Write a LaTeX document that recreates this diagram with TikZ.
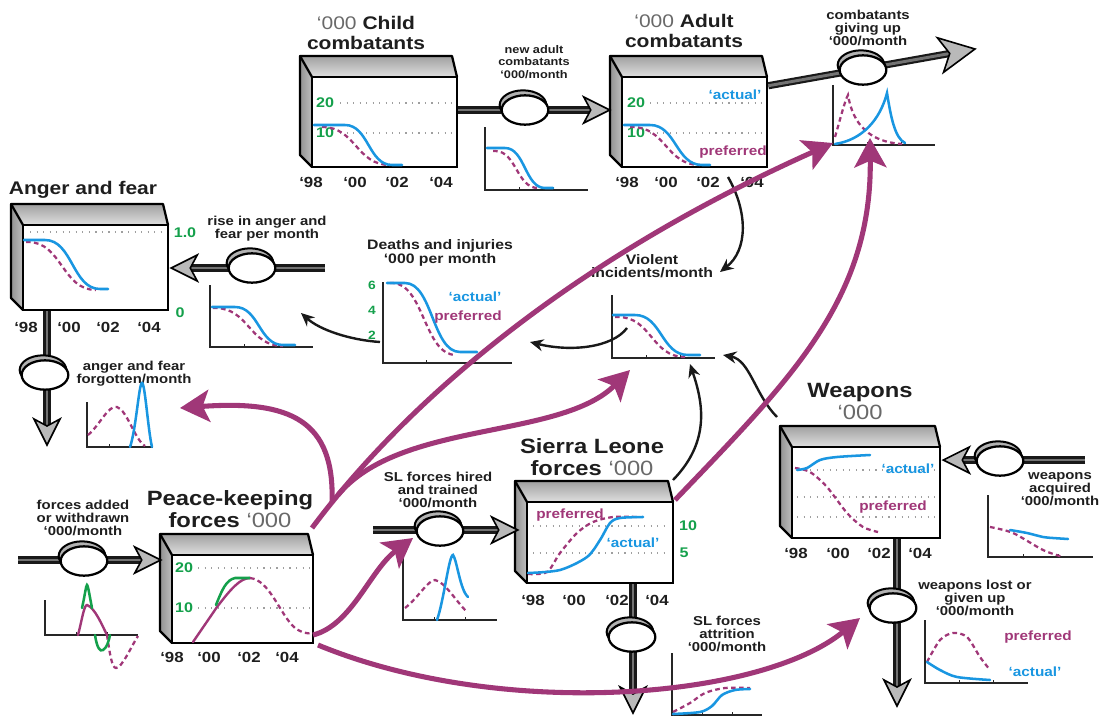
\documentclass[tikz,border=0pt]{standalone}
\usepackage{fontspec}
\setmainfont{Liberation Sans}[FakeStretch=1.15]
\usetikzlibrary{arrows.meta,shapes.geometric,fit,calc,backgrounds}
\definecolor{magc}{RGB}{160,55,120}
\definecolor{bluec}{RGB}{25,150,225}
\definecolor{greenc}{RGB}{20,160,75}
\definecolor{inkc}{RGB}{30,30,30}
\definecolor{titlegray}{RGB}{105,105,105}

\tikzset{
  boxline/.style={draw=black, line width=1.7pt, line join=round},
  boxface/.style={draw=black, line width=1.9pt, fill=white, inner sep=0pt},
  valvest/.style={ellipse, draw=black, line width=1.7pt, fill=white, minimum width=35pt, minimum height=22pt, inner sep=0pt},
  valverim/.style={ellipse, draw=black, line width=1.5pt, fill=gray!60, minimum width=35pt, minimum height=22pt, inner sep=0pt},
  pipe/.style={draw=black!90, line width=1.6pt, double=black!55, double distance=2.2pt},
  headst/.style={draw=black, line width=1.2pt, fill=gray!55, line join=miter},
  pipehead/.pic={\path[headst] (0,0) -- (-26,-13) -- (-19,0) -- (-26,13) -- cycle;},
  act/.style={draw=bluec, line width=1.9pt, line cap=round},
  pref/.style={draw=magc, line width=1.7pt, dash pattern=on 3.5pt off 2.5pt},
  prefsolid/.style={draw=magc, line width=1.8pt, line cap=round},
  grn/.style={draw=greenc, line width=1.9pt, line cap=round},
  gridl/.style={draw=gray!75, line width=0.9pt, dash pattern=on 0.9pt off 4pt},
  axisline/.style={draw=black!85, line width=1.1pt},
  infl/.style={draw=black!90, line width=1.8pt, -{Stealth[length=10pt,width=9pt]}},
  magarrow/.style={draw=magc, line width=3.8pt, -{Stealth[length=22pt,width=24pt,inset=5pt]}},
  ttlA/.style={font=\fontsize{13.7}{15}\selectfont\bfseries, text=inkc, align=center, inner sep=0pt},
  ttlB/.style={font=\fontsize{15.5}{16.5}\selectfont\bfseries, text=inkc, align=center, inner sep=0pt},
  lab/.style={font=\fontsize{9.7}{9.8}\selectfont\bfseries, text=inkc, align=center, inner sep=0pt},
  labs/.style={font=\fontsize{8.3}{9.4}\selectfont\bfseries, text=inkc, align=center, inner sep=0pt},
  labl/.style={font=\fontsize{10.3}{10.2}\selectfont\bfseries, text=inkc, align=center, inner sep=0pt},
  yr/.style={font=\fontsize{11}{11}\selectfont\bfseries, text=inkc, inner sep=0pt},
  num/.style={font=\fontsize{10.5}{10.5}\selectfont\bfseries, text=greenc, inner sep=0pt},
  nums/.style={font=\fontsize{9}{9}\selectfont\bfseries, text=greenc, inner sep=0pt},
  acttxt/.style={font=\fontsize{10}{10}\selectfont\bfseries, text=bluec, inner sep=0pt},
  preftxt/.style={font=\fontsize{10}{10}\selectfont\bfseries, text=magc, inner sep=0pt},
}

\newcommand\stockbox[5]{%
  \shade[left color=gray!85, right color=gray!50] (#2-12,#3-21) -- (#2,#3) -- (#2,#5) -- (#2-12,#5-12) -- cycle;
  \shade[top color=gray!75, bottom color=gray!25] (#2-12,#3-21) -- (#4-5,#3-21) -- (#4,#3) -- (#2,#3) -- cycle;
  \draw[boxline] (#2,#3) -- (#2-12,#3-21) -- (#4-5,#3-21) -- (#4,#3);
  \draw[boxline] (#2-12,#3-21) -- (#2-12,#5-12) -- (#2,#5);
  \node[boxface, fit={(#2,#3)(#4,#5)}] (#1) {};
}
\newcommand\valvenode[3]{%
  \node[valverim] (#1rim) at (#2-2,#3-5) {};
  \node[valvest] (#1) at (#2,#3) {};
}
\newcommand\scurve[7]{\draw[#1] (#2,#6) -- (#3,#6) .. controls ({(#3+#4)/2},#6) and ({(#3+#4)/2},#7) .. (#4,#7) -- (#5,#7);}
\newcommand\miniaxes[4]{%
  \draw[axisline] (#1,#2) -- (#1,#4) -- (#3,#4);
  \draw[axisline, line width=0.6pt] ({#1+(#3-#1)/3},#4) -- ++(0,-3) ({#1+2*(#3-#1)/3},#4) -- ++(0,-3);
}
\newcommand\yrs[6]{%
  \node[yr] (#1a) at (#3,#2) {‘98};
  \node[yr] (#1b) at (#4,#2) {‘00};
  \node[yr] (#1c) at (#5,#2) {‘02};
  \node[yr] (#1d) at (#6,#2) {‘04};
}

\begin{document}
\begin{tikzpicture}[x=0.75pt,y=-0.75pt]
\useasboundingbox (0,0) rectangle (1102,717);

% ---------------- stocks ----------------
\stockbox{child}{312}{77}{457}{167}
\stockbox{adult}{622}{77}{767}{167}
\stockbox{anger}{23}{225}{168}{310}
\stockbox{peace}{172}{555}{313}{643}
\stockbox{sl}{527}{502}{673}{583}
\stockbox{weap}{792}{447}{940}{538}

% ---------------- valves ----------------
\valvenode{valve1}{525}{110}
\valvenode{valve2}{863}{70}
\valvenode{valve3}{252}{268}
\valvenode{valve4}{45}{375}
\valvenode{valve5}{84}{561}
\valvenode{valve6}{440}{531}
\valvenode{valve7}{632}{637}
\valvenode{valve8}{1000}{461}
\valvenode{valve9}{893}{608}

% ---------------- pipe ends ----------------
\coordinate (tip1) at ($(adult.west |- valve1)+(-11,0)$);
\coordinate (a2s) at ($(adult.north east)+(0,10)$);
\coordinate (tip2) at (975,49);
\coordinate (src3) at (325,268);
\coordinate (tip3) at ($(anger.east |- src3)+(2,0)$);
\coordinate (tip4) at (47,445);
\coordinate (src5) at (18,560);
\coordinate (tip5) at ($(peace.west |- src5)+(-10,0)$);
\coordinate (src6) at (373,530);
\coordinate (tip6) at ($(sl.west |- src6)+(-8,0)$);
\coordinate (tip7) at (633,713);
\coordinate (src8) at (1085,460);
\coordinate (tip8) at ($(weap.east |- src8)+(2,0)$);
\coordinate (tip9) at (897,706);

\begin{scope}[on background layer]
  \draw[pipe] (child.east |- valve1) -- (valve1);
  \draw[pipe, shorten >=9pt] (valve1) -- (tip1);
  \draw[pipe, shorten >=12pt] (a2s) -- (tip2);
  \draw[pipe, shorten >=9pt] (src3) -- (tip3);
  \draw[pipe, shorten >=9pt] (anger.south -| tip4) -- (tip4);
  \draw[pipe, shorten >=9pt] (src5) -- (tip5);
  \draw[pipe, shorten >=9pt] (src6) -- (tip6);
  \draw[pipe, shorten >=9pt] (sl.south -| tip7) -- (tip7);
  \draw[pipe, shorten >=9pt] (src8) -- (tip8);
  \draw[pipe, shorten >=9pt] (weap.south -| tip9) -- (tip9);
\end{scope}
\pic (h1) at (tip1) {pipehead};
\pic (h2) [rotate=10, scale=1.35] at (tip2) {pipehead};
\pic (h3) [rotate=180] at (tip3) {pipehead};
\pic (h4) [rotate=-90] at (tip4) {pipehead};
\pic (h5) at (tip5) {pipehead};
\pic (h6) at (tip6) {pipehead};
\pic (h7) [rotate=-90] at (tip7) {pipehead};
\pic (h8) [rotate=180] at (tip8) {pipehead};
\pic (h9) [rotate=-90] at (tip9) {pipehead};

% ---------------- titles ----------------
\node[ttlA] (tchild) at (366,33) {{\color{titlegray}\mdseries ‘000} Child\\combatants};
\node[ttlA] (tadult) at (684,31) {{\color{titlegray}\mdseries ‘000} Adult\\combatants};
\node[ttlA] (tanger) at (83,190) {Anger and fear};
\node[ttlB] (tpeace) at (230,509) {Peace-keeping\\forces {\color{titlegray}\mdseries ‘000}};
\node[ttlB] (tsl) at (592,457) {Sierra Leone\\forces {\color{titlegray}\mdseries ‘000}};
\node[ttlB] (tweap) at (860,401) {Weapons\\{\color{titlegray}\mdseries ‘000}};

% ---------------- flow labels ----------------
\node[labs] (lnew) at (534,62) {new adult\\combatants\\‘000/month};
\node[lab] (lgive) at (868,28) {combatants\\giving up\\‘000/month};
\node[lab] (lrise) at (267,229) {rise in anger and\\fear per month};
\node[lab] (lforg) at (134,374) {anger and fear\\forgotten/month};
\node[labl] (ldeath) at (440,253) {Deaths and injuries\\‘000 per month};
\node[labl] (lviol) at (652,266) {Violent\\incidents/month};
\node[lab] (ladd) at (83,518) {forces added\\or withdrawn\\‘000/month};
\node[lab] (lhire) at (438,490) {SL forces hired\\and trained\\‘000/month};
\node[lab] (lattr) at (727,634) {SL forces\\attrition\\‘000/month};
\node[lab] (lacq) at (1060,489) {weapons\\acquired\\‘000/month};
\node[lab] (llost) at (975,598) {weapons lost or\\given up\\‘000/month};

% ---------------- child combatants ----------------
\draw[gridl] (340,103) -- (455,103) (340,133) -- (455,133);
\node[num] (c20) at (325,103) {20};
\node[num] (c10) at (325,133) {10};
\scurve{pref}{322}{322}{390}{390}{127}{165}
\scurve{act}{314}{345}{392}{402}{125}{165}
\yrs{cy}{182}{311}{355}{397}{441}
\miniaxes{485}{127}{588}{190}
\scurve{pref}{493}{495}{538}{538}{151}{188}
\scurve{act}{487}{505}{545}{553}{148}{188}

% ---------------- adult combatants ----------------
\draw[gridl] (650,103) -- (765,103) (650,133) -- (765,133);
\node[num] (a20) at (636,103) {20};
\node[num] (a10) at (636,133) {10};
\scurve{pref}{630}{632}{700}{700}{127}{165}
\scurve{act}{624}{650}{702}{710}{125}{165}
\node[acttxt] (aact) at (735,95) {‘actual’};
\node[preftxt] (apref) at (733,152) {preferred};
\yrs{ay}{182}{627}{666}{708}{752}
\miniaxes{833}{85}{935}{145}
\draw[pref] (835,137) .. controls (840,120) and (845,100) .. (848,95) .. controls (853,125) and (870,142) .. (902,144);
\draw[act] (835,144) .. controls (862,140) and (880,120) .. (887,93) .. controls (891,118) and (895,138) .. (905,143);

% ---------------- anger and fear ----------------
\draw[gridl] (30,232) -- (165,232);
\node[num] (f10) at (185,233) {1.0};
\node[num] (f0) at (180,313) {0};
\scurve{pref}{26}{28}{96}{96}{242}{290}
\scurve{act}{24}{45}{100}{108}{240}{289}
\yrs{fy}{327}{26}{69}{108}{149}
\miniaxes{210}{285}{313}{347}
\scurve{pref}{213}{215}{283}{283}{308}{346}
\scurve{act}{212}{235}{283}{295}{307}{345}
\miniaxes{87}{402}{153}{447}
\draw[pref] (88,435) .. controls (100,425) and (108,405) .. (117,407) .. controls (127,410) and (135,440) .. (145,446);
\draw[act] (130,447) .. controls (136,430) and (139,383) .. (142,383) .. controls (145,383) and (148,430) .. (152,447);

% ---------------- deaths and injuries ----------------
\miniaxes{383}{282}{512}{363}
\node[nums] (d6) at (372,285) {6};
\node[nums] (d4) at (372,310) {4};
\node[nums] (d2) at (372,335) {2};
\scurve{pref}{390}{392}{456}{456}{283}{355}
\scurve{act}{387}{405}{460}{477}{283}{352}
\node[acttxt] (dact) at (475,297) {‘actual’};
\node[preftxt] (dpref) at (468,317) {preferred};
\coordinate (dchart) at (380,342);

% ---------------- violent incidents ----------------
\miniaxes{612}{295}{715}{358}
\scurve{pref}{615}{618}{685}{685}{317}{357}
\scurve{act}{613}{635}{688}{700}{315}{355}
\coordinate (vchart) at (627,328);

% ---------------- peace-keeping ----------------
\draw[gridl] (198,568) -- (313,568) (198,608) -- (313,608);
\node[num] (p20) at (184,568) {20};
\node[num] (p10) at (184,608) {10};
\draw[prefsolid] (193,642) -- (217,607) .. controls (230,590) and (240,578) .. (250,578);
\draw[grn] (216,605) .. controls (222,590) and (226,580) .. (235,578) -- (250,578);
\draw[pref] (250,578) .. controls (270,580) and (280,615) .. (295,628) .. controls (302,633) and (308,634) .. (312,633);
\yrs{py}{657}{172}{209}{249}{287}
\miniaxes{45}{600}{138}{635}
\draw[prefsolid] (78,635) .. controls (82,620) and (84,605) .. (87,605) .. controls (95,608) and (102,625) .. (107,635);
\draw[pref] (107,635) .. controls (110,655) and (112,668) .. (116,668) .. controls (122,668) and (132,645) .. (138,636);
\draw[grn] (82,608) .. controls (85,595) and (86,585) .. (87,585) .. controls (88,585) and (90,598) .. (92,608);
\draw[grn] (95,635) .. controls (97,648) and (100,652) .. (103,650) .. controls (107,648) and (109,640) .. (110,635);

% ---------------- Sierra Leone forces ----------------
\draw[gridl] (533,526) -- (665,526) (533,553) -- (665,553);
\node[num] (s10) at (688,526) {10};
\node[num] (s5) at (684,553) {5};
\draw[pref] plot[smooth] coordinates {(528,574) (547,572) (560,553) (577,533) (593,522) (613,517) (637,517)};
\draw[act] plot[smooth] coordinates {(528,573) (560,570) (587,557) (600,540) (610,523) (620,518) (643,517)};
\node[preftxt] (spref) at (570,515) {preferred};
\node[acttxt] (sact) at (633,543) {‘actual’};
\yrs{sy}{600}{533}{574}{617}{657}
\miniaxes{403}{557}{497}{620}
\draw[pref] (405,608) .. controls (418,598) and (428,580) .. (435,580) .. controls (445,582) and (455,600) .. (467,612);
\draw[act] (437,620) .. controls (444,600) and (449,555) .. (453,555) .. controls (457,560) and (460,590) .. (468,597);
\miniaxes{672}{653}{762}{715}
\draw[pref] plot[smooth] coordinates {(673,712) (690,703) (705,693) (725,688) (750,688)};
\draw[act] plot[smooth] coordinates {(673,714) (700,712) (712,706) (722,695) (735,690) (750,689)};

% ---------------- weapons ----------------
\draw[gridl] (797,470) -- (935,470) (797,497) -- (935,497) (797,517) -- (935,517);
\draw[pref] plot[smooth] coordinates {(795,468) (810,472) (827,487) (847,513) (863,527) (878,532)};
\draw[act] plot[smooth] coordinates {(797,470) (807,468) (820,460) (837,457) (870,455)};
\node[acttxt] (wact) at (908,469) {‘actual’};
\node[preftxt] (wpref) at (893,507) {preferred};
\yrs{wy}{553}{796}{838}{879}{920}
\miniaxes{988}{495}{1093}{557}
\draw[pref] plot[smooth] coordinates {(990,527) (1013,533) (1043,550) (1063,557)};
\draw[act] plot[smooth] coordinates {(1010,530) (1027,533) (1043,537) (1053,538) (1068,539)};
\miniaxes{925}{620}{1028}{683}
\draw[pref] plot[smooth] coordinates {(927,662) (940,640) (953,633) (967,637) (980,657) (990,670)};
\draw[act] plot[smooth] coordinates {(927,662) (940,670) (957,677) (990,680)};
\node[preftxt] (lpref) at (1038,637) {preferred};
\node[acttxt] (lact) at (1035,672) {‘actual’};

% ---------------- black influence arrows ----------------
\coordinate (k1s) at (728,177);
\coordinate (k1e) at (720,272);
\draw[infl] (k1s) .. controls (748,212) and (748,250) .. (k1e);
\coordinate (k2e) at (530,342);
\draw[infl] (vchart) .. controls (612,348) and (570,352) .. (k2e);
\coordinate (k3e) at (301,313);
\draw[infl] (dchart) .. controls (350,340) and (320,330) .. (k3e);
\coordinate (k4s) at (673,480);
\coordinate (k4e) at (690,364);
\draw[infl] (k4s) .. controls (712,440) and (702,400) .. (k4e);
\coordinate (k5s) at (777,417);
\coordinate (k5e) at (723,355);
\draw[infl] (k5s) .. controls (755,395) and (750,360) .. (k5e);

% ---------------- magenta arrows ----------------
\coordinate (m0) at (312,528);
\coordinate (mA) at (332,503);
\coordinate (mC) at (338,495);
\coordinate (mB) at (313,635);
\coordinate (mE) at (318,645);
\coordinate (mF) at (675,500);
\coordinate (tA) at (180,408);
\coordinate (tB) at (833,143);
\coordinate (tC) at (630,370);
\coordinate (tD) at (413,538);
\coordinate (tE) at (860,618);
\coordinate (tF) at (870,138);
\draw[magarrow] (mA) .. controls (335,420) and (290,400) .. (tA);
\draw[magarrow] (m0) .. controls (400,410) and (560,265) .. (tB);
\draw[magarrow] (mC) .. controls (400,420) and (560,440) .. (tC);
\draw[magarrow] (mB) .. controls (352,625) and (370,570) .. (tD);
\draw[magarrow] (mE) .. controls (500,720) and (760,700) .. (tE);
\draw[magarrow] (mF) .. controls (790,380) and (872,300) .. (tF);
\end{tikzpicture}
\end{document}
